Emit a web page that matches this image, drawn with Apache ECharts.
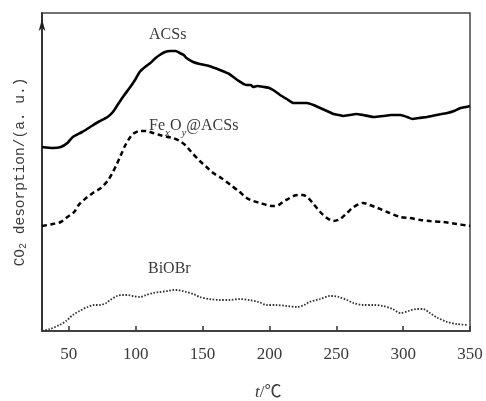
<!DOCTYPE html>
<html>
<head>
<meta charset="utf-8">
<script src="https://cdn.jsdelivr.net/npm/echarts@6/dist/echarts.min.js"></script>
<style>
	html, body { margin: 0; padding: 0; background: #fff; }
	#chart { width: 486px; height: 401px; }
</style>
</head>
<body>
<div id="chart"></div>
<script>
(function() {
	'use strict';

	// temperature (°C) / signal (a.u.)
	var acssT = [30, 38, 44, 49, 53, 60, 66, 72, 79, 83, 86, 91, 96, 100, 103, 107, 111, 115, 118, 122, 126, 130, 133, 136, 138, 143, 148, 155, 163, 170, 176, 183, 186, 188, 191, 196, 200, 204, 208, 213, 218, 223, 228, 233, 238, 243, 248, 252, 255, 260, 265, 270, 278, 285, 291, 298, 303, 307, 312, 318, 325, 333, 338, 343, 347, 350];
	var acssV = [184, 183, 184, 188, 194, 199, 204, 209, 214, 219, 225, 235, 244, 252, 259, 264, 268, 273, 276, 279, 280, 280, 278, 276, 273, 269, 267, 265, 261, 257, 251, 246, 246, 244, 245, 244, 243, 240, 236, 232, 228, 228, 228, 226, 223, 220, 217, 216, 215, 216, 217, 216, 214, 215, 216, 216, 214, 212, 213, 214, 216, 218, 220, 223, 224, 225];

	var fexoyT = [30, 38, 44, 49, 54, 58, 63, 68, 74, 79, 83, 86, 89, 92, 95, 98, 103, 108, 113, 118, 124, 128, 133, 137, 141, 148, 153, 158, 164, 171, 177, 183, 188, 193, 198, 203, 207, 210, 214, 218, 222, 225, 229, 233, 238, 243, 248, 253, 258, 263, 270, 275, 281, 288, 298, 305, 313, 320, 330, 340, 350];
	var fexoyV = [105, 107, 109, 114, 119, 127, 133, 138, 143, 150, 159, 167, 176, 185, 192, 197, 200, 200, 198, 196, 194, 193, 190, 186, 180, 170, 164, 158, 153, 146, 140, 133, 130, 128, 126, 125, 126, 129, 132, 135, 136, 136, 133, 127, 119, 113, 110, 112, 118, 124, 128, 126, 123, 119, 114, 113, 111, 110, 109, 107, 105];

	var biobrT = [30, 36, 43, 48, 53, 58, 64, 69, 73, 78, 81, 86, 90, 94, 98, 103, 108, 113, 118, 124, 128, 131, 135, 138, 143, 148, 155, 163, 170, 178, 185, 192, 198, 205, 213, 221, 226, 230, 238, 245, 248, 252, 258, 263, 270, 278, 285, 292, 298, 304, 310, 315, 320, 326, 333, 340, 348];
	var biobrV = [0, 2, 6, 10, 16, 20, 24, 26, 26, 28, 31, 35, 36, 36, 35, 34, 36, 38, 39, 40, 41, 41, 40, 39, 37, 34, 32, 31, 31, 32, 31, 29, 26, 26, 25, 24, 26, 29, 32, 35, 35, 34, 31, 28, 26, 26, 25, 22, 18, 20, 22, 22, 18, 13, 9, 7, 6];

	var tickValues = [50, 100, 150, 200, 250, 300, 350];

	function pairs(xs, ys) {
		return xs.map(function(x, i) { return [x, ys[i]]; });
	}

	var serif = '"Liberation Serif", "Noto Sans CJK SC", serif';
	var textColor = '#3a3a3a';

	var chart = echarts.init(document.getElementById('chart'), null, { renderer: 'canvas' });

	var option = {
		animation: false,
		backgroundColor: '#fff',
		grid: {
			left: 42,
			right: 16,
			top: 13,
			bottom: 70,
			show: true,
			borderColor: '#444',
			borderWidth: 1.5
		},
		xAxis: {
			type: 'value',
			min: 30,
			max: 350,
			splitLine: { show: false },
			axisLine: { lineStyle: { color: '#333', width: 1.5 } },
			axisTick: {
				inside: true,
				length: 5,
				customValues: tickValues,
				lineStyle: { color: '#333', width: 1.5 }
			},
			axisLabel: {
				customValues: tickValues,
				margin: 15,
				fontFamily: serif,
				fontSize: 17,
				color: textColor
			}
		},
		yAxis: {
			type: 'value',
			min: 0,
			max: 318,
			splitLine: { show: false },
			axisTick: { show: false },
			axisLabel: { show: false },
			axisLine: {
				show: true,
				symbol: ['none', 'arrow'],
				symbolSize: [5, 12],
				symbolOffset: [0, -6],
				lineStyle: { color: '#222', width: 1.5 }
			},
			name: 'CO{sub|2} desorption/(a. u.)',
			nameLocation: 'middle',
			nameGap: 14,
			nameRotate: 90,
			nameTextStyle: {
				fontFamily: '"Liberation Mono", monospace',
				fontSize: 14.5,
				color: textColor,
				rich: {
					sub: {
						fontFamily: '"Liberation Mono", monospace',
						fontSize: 10,
						color: textColor,
						verticalAlign: 'bottom',
						lineHeight: 10
					}
				}
			}
		},
		series: [
			{
				name: 'ACSs',
				type: 'line',
				data: pairs(acssT, acssV),
				showSymbol: false,
				smooth: 0.2,
				lineStyle: { color: '#000', width: 2.6 }
			},
			{
				name: 'FexOy@ACSs',
				type: 'line',
				data: pairs(fexoyT, fexoyV),
				showSymbol: false,
				smooth: 0.3,
				lineStyle: { color: '#000', width: 2.5, type: [5, 3.5] }
			},
			{
				name: 'BiOBr',
				type: 'line',
				data: pairs(biobrT, biobrV),
				showSymbol: false,
				smooth: 0.3,
				lineStyle: { color: '#333', width: 1.8, type: [1.6, 1.6] }
			}
		],
		graphic: [
			{
				type: 'text',
				left: 149,
				top: 27,
				style: { text: 'ACSs', font: '16px ' + serif, fill: textColor }
			},
			{
				type: 'text',
				left: 149,
				top: 112,
				style: {
					text: 'Fe{sub|x}O{sub|y}@ACSs',
					font: '16px ' + serif,
					fill: textColor,
					rich: {
						sub: {
							font: 'italic 11px ' + serif,
							fill: textColor,
							verticalAlign: 'bottom',
							lineHeight: 11
						}
					},
					lineHeight: 27
				}
			},
			{
				type: 'text',
				left: 148,
				top: 261,
				style: { text: 'BiOBr', font: '16px ' + serif, fill: textColor }
			},
			{
				type: 'text',
				left: 255,
				top: 384,
				style: {
					text: '{it|t}/℃',
					font: '17px ' + serif,
					fill: textColor,
					rich: {
						it: { font: 'italic 17px ' + serif, fill: textColor }
					}
				}
			}
		]
	};

	chart.setOption(option);
})();
</script>
</body>
</html>
